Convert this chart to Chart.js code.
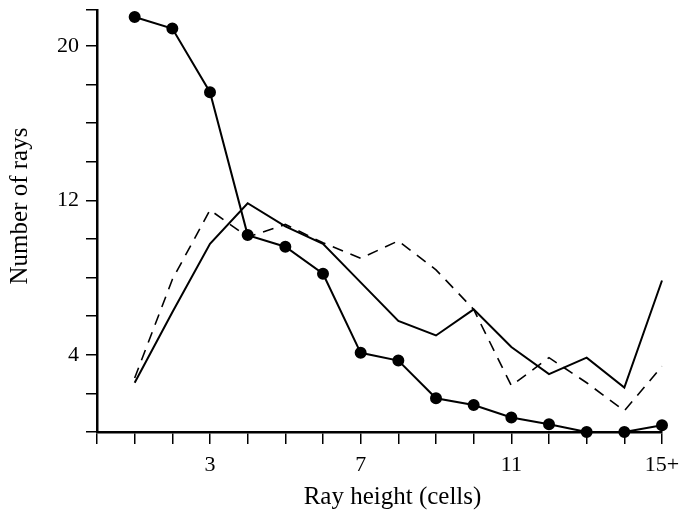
<!DOCTYPE html>
<html>
<head>
<meta charset="utf-8">
<script src="https://cdn.jsdelivr.net/npm/chart.js@4/dist/chart.umd.min.js"></script>
<style>
  html, body { margin: 0; padding: 0; background: #fff; }
  #wrap { width: 682px; height: 512px; }
</style>
</head>
<body>
<div id="wrap"><canvas id="c"></canvas></div>
<script>
const rayHeights = [1, 2, 3, 4, 5, 6, 7, 8, 9, 10, 11, 12, 13, 14, 15];
const dottedSeries = [21.5, 20.9, 17.6, 10.2, 9.6, 8.2, 4.1, 3.7, 1.75, 1.4, 0.75, 0.4, 0, 0, 0.35];
const solidSeries = [2.55, 6.2, 9.75, 11.85, 10.65, 9.75, 7.75, 5.75, 5.0, 6.35, 4.4, 3.0, 3.85, 2.3, 7.85];
const dashedSeries = [2.8, 7.9, 11.5, 10.1, 10.75, 9.8, 9.0, 9.9, 8.4, 6.35, 2.4, 3.85, 2.55, 1.1, 3.4];
const xTickLabels = { 3: '3', 7: '7', 11: '11', 15: '15+' };
const yTickLabels = [4, 12, 20];
const xTitle = 'Ray height (cells)';
const yTitle = 'Number of rays';

const SERIF = '"Liberation Serif", "Times New Roman", serif';
const TICK_FONT = { family: SERIF, size: 22 };
const pts = arr => arr.map((y, i) => ({ x: rayHeights[i], y }));

// axis titles drawn by hand, they sit a little off-centre in the original
const axisTitles = {
  id: 'axisTitles',
  afterDraw(chart) {
    const { ctx, chartArea } = chart;
    ctx.save();
    ctx.fillStyle = '#000';
    ctx.font = '25px ' + SERIF;
    ctx.textAlign = 'center';
    ctx.textBaseline = 'alphabetic';
    ctx.fillText(xTitle, (chartArea.left + chartArea.right) / 2 + 13, 504);
    ctx.translate(27, (chartArea.top + chartArea.bottom) / 2 - 15);
    ctx.rotate(-Math.PI / 2);
    ctx.fillText(yTitle, 0, 0);
    ctx.restore();
  }
};

new Chart(document.getElementById('c'), {
  type: 'line',
  data: {
    datasets: [
      { data: pts(dashedSeries), borderColor: '#000', borderWidth: 1.6, borderDash: [11, 8], pointRadius: 0, tension: 0, clip: false },
      { data: pts(solidSeries), borderColor: '#000', borderWidth: 2, pointRadius: 0, tension: 0, clip: false },
      { data: pts(dottedSeries), borderColor: '#000', borderWidth: 2, pointRadius: 5, pointBackgroundColor: '#000', pointBorderColor: '#000', tension: 0, clip: false }
    ]
  },
  options: {
    responsive: true, maintainAspectRatio: false, animation: false,
    layout: { padding: { top: 10, right: 20, bottom: 0, left: 0 } },
    plugins: { legend: { display: false }, tooltip: { enabled: false } },
    scales: {
      x: {
        type: 'linear', min: 0, max: 15,
        afterFit: s => { s.height = 80; s.paddingLeft = 0; s.paddingRight = 0; },
        border: { color: '#000', width: 2.5 },
        grid: { drawOnChartArea: false, drawTicks: true, tickLength: 12, color: '#000', lineWidth: 1.5 },
        ticks: { stepSize: 1, autoSkip: false, maxRotation: 0, color: '#000', font: TICK_FONT, padding: 8,
                 callback: v => xTickLabels[v] || '' }
      },
      y: {
        type: 'linear', min: 0, max: 21.86,
        afterFit: s => { s.width = 97; s.paddingTop = 0; s.paddingBottom = 0; },
        border: { color: '#000', width: 2.5 },
        grid: { drawOnChartArea: false, drawTicks: true, tickLength: 11, color: '#000', lineWidth: 1.5 },
        ticks: { stepSize: 2, autoSkip: false, color: '#000', font: TICK_FONT, padding: 7,
                 callback: v => yTickLabels.includes(v) ? String(v) : '' }
      }
    }
  },
  plugins: [axisTitles]
});
</script>
</body>
</html>
